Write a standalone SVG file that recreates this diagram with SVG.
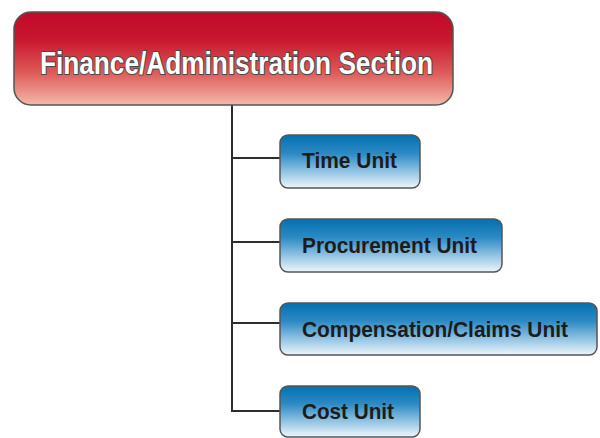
<svg xmlns="http://www.w3.org/2000/svg" width="600" height="438" viewBox="0 0 600 438">
  <defs>
    <linearGradient id="redGrad" x1="0" y1="0" x2="0" y2="1">
      <stop offset="0" stop-color="#c20a2a"/>
      <stop offset="0.3" stop-color="#c8172f"/>
      <stop offset="0.65" stop-color="#de5a58"/>
      <stop offset="1" stop-color="#f4b8aa"/>
    </linearGradient>
    <linearGradient id="blueGrad" x1="0" y1="0" x2="0" y2="1">
      <stop offset="0" stop-color="#0570b0"/>
      <stop offset="0.35" stop-color="#2c8ac4"/>
      <stop offset="0.75" stop-color="#a4cde8"/>
      <stop offset="1" stop-color="#eef6fc"/>
    </linearGradient>
  </defs>
  <style>
    .head { fill: url(#redGrad); stroke: #555; stroke-width: 1.5; }
    .unit { fill: url(#blueGrad); stroke: #555; stroke-width: 1.5; }
    .headText { font-family: "Liberation Sans", Arial, sans-serif; font-weight: bold; font-size: 31px; fill: #ffffff; stroke: #4a4a4a; stroke-width: 2; paint-order: stroke; text-anchor: middle; }
    .unitText { font-family: "Liberation Sans", Arial, sans-serif; font-weight: bold; font-size: 22px; fill: #1c1c1c; }
    .conn { fill: none; stroke: #2e2e2e; stroke-width: 2; }
  </style>
  <rect width="600" height="438" fill="#ffffff"/>
  <g id="connectors">
    <line class="conn" x1="232" y1="105" x2="232" y2="412"/>
    <line class="conn" x1="231" y1="158" x2="280" y2="158"/>
    <line class="conn" x1="231" y1="242" x2="280" y2="242"/>
    <line class="conn" x1="231" y1="323" x2="280" y2="323"/>
    <line class="conn" x1="231" y1="411" x2="280" y2="411"/>
  </g>
  <g id="finance-admin">
    <rect class="head" x="14" y="12" width="439" height="93" rx="17" ry="17"/>
    <text class="headText" x="236.5" y="74" textLength="393" lengthAdjust="spacingAndGlyphs">Finance/Administration Section</text>
  </g>
  <g id="time-unit">
    <rect class="unit" x="280" y="135" width="140" height="53" rx="8" ry="8"/>
    <text class="unitText" x="302" y="168" textLength="95" lengthAdjust="spacingAndGlyphs">Time Unit</text>
  </g>
  <g id="procurement-unit">
    <rect class="unit" x="280" y="219" width="222" height="53" rx="8" ry="8"/>
    <text class="unitText" x="302" y="253" textLength="175" lengthAdjust="spacingAndGlyphs">Procurement Unit</text>
  </g>
  <g id="compensation-claims-unit">
    <rect class="unit" x="280" y="303" width="317" height="52" rx="8" ry="8"/>
    <text class="unitText" x="302" y="337" textLength="266" lengthAdjust="spacingAndGlyphs">Compensation/Claims Unit</text>
  </g>
  <g id="cost-unit">
    <rect class="unit" x="280" y="386" width="140" height="51" rx="8" ry="8"/>
    <text class="unitText" x="302" y="419" textLength="92" lengthAdjust="spacingAndGlyphs">Cost Unit</text>
  </g>
</svg>
